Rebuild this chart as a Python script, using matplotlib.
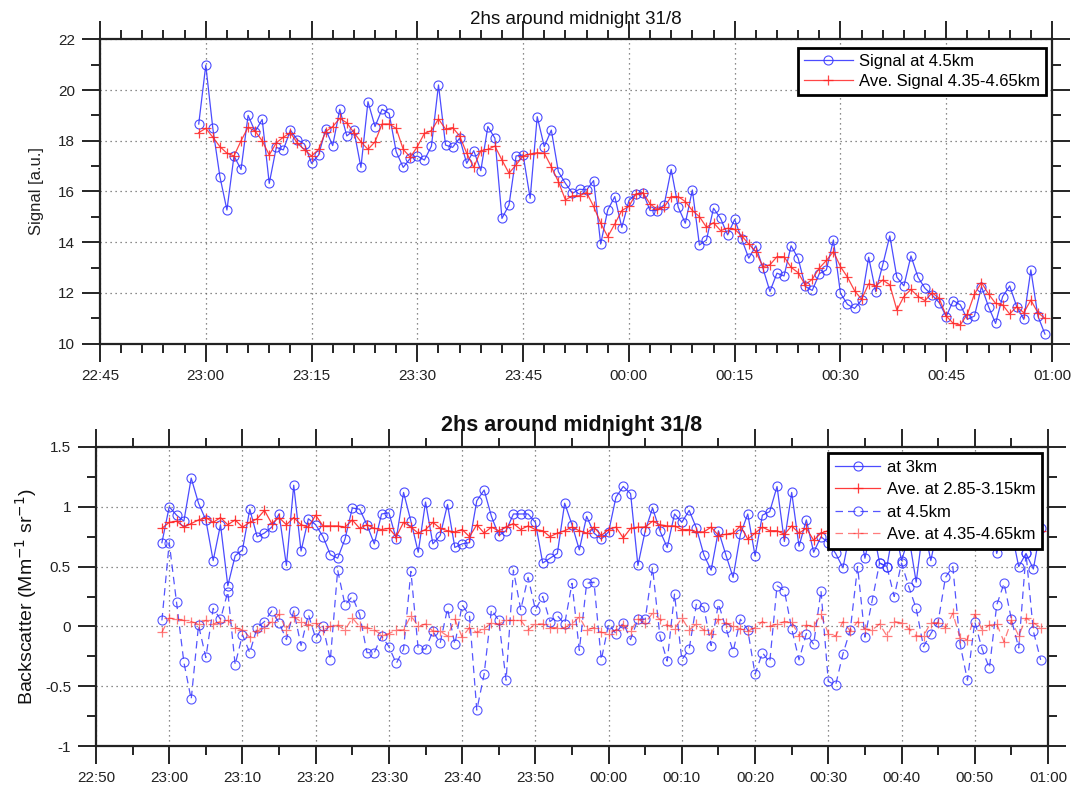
import matplotlib
matplotlib.use('Agg')
import matplotlib.pyplot as plt
import matplotlib.dates as mdates
from matplotlib.ticker import MultipleLocator
from datetime import datetime, timedelta

plt.rcParams['font.family'] = ['Liberation Sans', 'DejaVu Sans']

# ---------------- data ----------------
title_text = "2hs around midnight 31/8"

top_start = "22:59"
top_signal = [18.66, 20.98, 18.49, 16.59, 15.27, 17.40, 16.87, 19.00, 18.36, 18.84,
              16.32, 17.74, 17.64, 18.42, 18.03, 17.87, 17.11, 17.44, 18.45, 17.81,
              19.24, 18.19, 18.42, 16.95, 19.54, 18.56, 19.24, 19.08, 17.57, 16.95,
              17.31, 17.40, 17.24, 17.79, 20.20, 17.83, 17.74, 18.10, 17.11, 17.61,
              16.82, 18.56, 18.10, 14.94, 15.47, 17.40, 17.44, 15.73, 18.95, 17.77,
              18.42, 16.78, 16.32, 15.93, 16.09, 16.06, 16.43, 13.93, 15.27, 15.80,
              14.58, 15.64, 15.90, 15.95, 15.25, 15.25, 15.47, 16.87, 15.38, 14.75,
              16.06, 13.89, 14.09, 15.34, 14.94, 14.29, 14.90, 14.12, 13.37, 13.86,
              12.98, 12.06, 12.78, 12.67, 13.86, 13.37, 12.26, 12.10, 12.76, 12.91,
              14.09, 11.99, 11.55, 11.39, 11.72, 13.41, 12.05, 13.11, 14.25, 12.62,
              12.28, 13.46, 12.62, 12.18, 11.92, 11.62, 11.07, 11.70, 11.53, 10.96,
              11.09, 12.25, 11.46, 10.80, 11.86, 12.28, 11.46, 10.96, 12.91, 11.09,
              10.38]
top_avg = [18.32, 18.49, 18.14, 17.77, 17.51, 17.40, 18.00, 18.53, 18.38, 18.00,
           17.44, 17.92, 18.14, 18.32, 17.90, 17.64, 17.40, 17.66, 18.36, 18.56,
           18.88, 18.71, 18.32, 17.96, 17.66, 17.96, 18.66, 18.66, 18.49, 17.66,
           17.35, 17.77, 18.29, 18.40, 18.86, 18.46, 18.52, 18.19, 17.51, 16.95,
           17.61, 17.66, 17.79, 17.24, 16.72, 17.05, 17.40, 17.48, 17.53, 17.51,
           16.98, 16.39, 15.67, 15.83, 15.83, 15.96, 15.41, 14.75, 14.22, 14.72,
           15.25, 15.41, 15.90, 15.95, 15.51, 15.30, 15.38, 15.80, 15.80, 15.60,
           15.25, 15.01, 14.59, 14.77, 14.46, 14.55, 14.51, 14.25, 13.93, 13.63,
           13.04, 13.11, 13.43, 13.43, 13.01, 12.80, 12.32, 12.54, 12.98, 13.28,
           13.63, 13.04, 12.62, 12.09, 11.75, 12.36, 12.28, 12.51, 12.32, 11.33,
           11.86, 12.14, 11.86, 11.70, 12.01, 11.79, 11.09, 10.80, 10.74, 11.17,
           11.96, 12.41, 11.96, 11.59, 11.53, 11.17, 11.46, 11.22, 11.72, 11.22,
           11.00]

bot_start = "22:59"
bot_3km = [0.70, 1.00, 0.93,
           0.88, 1.24, 1.03, 0.89, 0.55, 0.85, 0.34, 0.59, 0.64, 0.98,
           0.75, 0.78, 0.83, 0.94, 0.51, 1.18, 0.63, 0.90, 0.85, 0.75,
           0.60, 0.57, 0.73, 0.99, 0.98, 0.85, 0.69, 0.94, 0.95, 0.73,
           1.12, 0.88, 0.62, 1.04, 0.69, 0.76, 1.02, 0.66, 0.69, 0.70,
           1.05, 1.14, 0.92, 0.76, 0.80, 0.94, 0.94, 0.94, 0.87, 0.53,
           0.57, 0.61, 1.03, 0.85, 0.64, 0.92, 0.78, 0.73, 0.79, 1.08,
           1.17, 1.11, 0.51, 0.80, 0.99, 0.80, 0.66, 0.94, 0.87, 0.97,
           0.82, 0.60, 0.47, 0.80, 0.60, 0.41, 0.77, 0.94, 0.59, 0.93,
           0.96, 1.17, 0.71, 1.12, 0.67, 0.89, 0.62, 0.75, 0.70, 0.61,
           0.49, 0.80, 0.90, 0.57, 0.85, 0.53, 0.50, 0.85, 0.55, 0.75,
           0.37, 0.85, 0.55, 0.85, 0.90, 0.80, 0.85, 0.90, 0.80, 0.85,
           0.95, 0.61, 0.85, 0.80, 0.50, 0.61, 0.48, 0.82]
bot_avg_3km = [0.82, 0.87, 0.88,
               0.83, 0.86, 0.89, 0.91, 0.87, 0.91, 0.85, 0.89, 0.83, 0.87,
               0.90, 0.97, 0.86, 0.91, 0.85, 0.91, 0.85, 0.83, 0.93, 0.84,
               0.84, 0.84, 0.83, 0.89, 0.82, 0.85, 0.82, 0.81, 0.82, 0.75,
               0.87, 0.83, 0.78, 0.81, 0.87, 0.82, 0.80, 0.79, 0.81, 0.75,
               0.85, 0.78, 0.83, 0.80, 0.83, 0.86, 0.81, 0.84, 0.81, 0.80,
               0.75, 0.78, 0.80, 0.83, 0.80, 0.78, 0.83, 0.76, 0.81, 0.83,
               0.74, 0.82, 0.83, 0.83, 0.88, 0.85, 0.84, 0.84, 0.81, 0.81,
               0.79, 0.79, 0.83, 0.76, 0.77, 0.78, 0.84, 0.73, 0.78, 0.83,
               0.80, 0.80, 0.77, 0.84, 0.78, 0.82, 0.72, 0.78, 0.80, 0.81,
               0.79, 0.82, 0.80, 0.78, 0.83, 0.80, 0.79, 0.81, 0.82, 0.80,
               0.78, 0.81, 0.83, 0.79, 0.80, 0.82, 0.78, 0.80, 0.81, 0.83,
               0.79, 0.80, 0.82, 0.78, 0.81, 0.80, 0.79, 0.80]
bot_45km = [0.05, 0.70, 0.20,
            -0.30, -0.61, 0.01, -0.26, 0.15, 0.06, 0.29, -0.32, -0.07, -0.22,
            -0.01, 0.04, 0.13, 0.03, -0.11, 0.13, -0.16, 0.10, -0.10, 0.00,
            -0.28, 0.47, 0.18, 0.25, 0.10, -0.22, -0.22, -0.08, -0.17, -0.31,
            -0.19, 0.46, -0.19, -0.19, -0.04, -0.14, 0.15, -0.15, 0.18, 0.09,
            -0.70, -0.40, 0.14, 0.05, -0.45, 0.47, 0.14, 0.41, 0.14, 0.25,
            0.04, 0.09, 0.02, 0.36, -0.20, 0.36, 0.37, -0.28, 0.02, -0.06,
            0.03, -0.11, 0.06, 0.06, 0.49, -0.08, -0.29, 0.27, -0.28, -0.19,
            0.19, 0.16, -0.16, 0.19, -0.01, -0.21, 0.06, -0.03, -0.40, -0.22,
            -0.30, 0.34, 0.30, -0.02, -0.28, -0.06, -0.15, 0.30, -0.46, -0.49,
            -0.23, -0.03, 0.50, -0.09, 0.22, 0.53, 0.50, 0.25, 0.53, 0.33,
            0.15, -0.17, -0.06, 0.04, 0.41, 0.50, -0.15, -0.45, 0.04, -0.19,
            -0.35, 0.18, 0.36, 0.06, -0.18, 0.61, -0.04, -0.28]
bot_avg_45km = [-0.05, 0.07, 0.06,
                0.05, 0.04, 0.02, 0.05, 0.02, 0.04, 0.05, -0.01, -0.03, -0.09,
                -0.04, -0.01, 0.04, 0.10, -0.03, 0.08, 0.04, 0.01, 0.03, -0.03,
                0.00, 0.01, -0.03, 0.07, 0.00, -0.01, -0.03, -0.07, -0.06, -0.03,
                -0.03, 0.09, 0.00, 0.02, -0.04, -0.04, -0.08, 0.06, -0.09, -0.01,
                -0.05, -0.02, 0.03, 0.02, 0.05, 0.05, 0.05, -0.03, 0.02, 0.02,
                -0.01, -0.01, -0.01, 0.02, 0.08, -0.03, -0.01, -0.05, -0.06, -0.03,
                0.01, -0.04, 0.06, 0.03, 0.11, 0.06, 0.01, -0.02, 0.07, -0.03,
                0.02, -0.03, -0.06, 0.06, 0.03, 0.00, -0.02, -0.04, -0.01, 0.04,
                0.00, 0.02, 0.04, 0.04, -0.08, 0.01, 0.00, 0.10, -0.06, -0.08,
                0.04, -0.04, 0.04, -0.02, -0.03, 0.02, -0.08, 0.04, 0.03, -0.02,
                -0.08, -0.08, 0.03, 0.03, -0.01, 0.11, -0.10, -0.11, 0.10, -0.03,
                0.01, 0.02, -0.13, 0.05, -0.08, 0.07, 0.03, -0.01]

top_xtick_labels = ["22:45", "23:00", "23:15", "23:30", "23:45", "00:00",
                    "00:15", "00:30", "00:45", "01:00"]
bot_xtick_labels = ["22:50", "23:00", "23:10", "23:20", "23:30", "23:40", "23:50",
                    "00:00", "00:10", "00:20", "00:30", "00:40", "00:50", "01:00"]
top_yticks = [10, 12, 14, 16, 18, 20, 22]
bot_yticks = [-1, -0.5, 0, 0.5, 1, 1.5]
bot_ytick_labels = ["-1", "-0.5", "0", "0.5", "1", "1.5"]


def to_dt(hhmm):
    h, m = map(int, hhmm.split(":"))
    day = 31 if h >= 12 else 32
    return datetime(2000, 8, 1) + timedelta(days=day - 1, hours=h, minutes=m)


top_times = [to_dt(top_start) + timedelta(minutes=i) for i in range(len(top_signal))]
bot_times = [to_dt(bot_start) + timedelta(minutes=i) for i in range(len(bot_3km))]

BLUE = (0.22, 0.22, 1.0)
RED = (1.0, 0.15, 0.15)

fig = plt.figure(figsize=(10.74, 7.88), dpi=100)
ax1 = fig.add_axes([100 / 1074, 1 - 343.7 / 788, 952 / 1074, 304.4 / 788])
ax2 = fig.add_axes([96 / 1074, 1 - 746 / 788, 952 / 1074, 299 / 788])

# ---------------- top panel ----------------
ax1.plot(top_times, top_signal, '-o', color=BLUE, lw=0.9, ms=6.5, mfc='none',
         mec=BLUE, mew=0.8, alpha=0.9, label='Signal at 4.5km')
ax1.plot(top_times, top_avg, '-+', color=RED, lw=0.9, ms=7.5, mew=0.9, alpha=0.85,
         label='Ave. Signal 4.35-4.65km')
ax1.set_xlim(to_dt(top_xtick_labels[0]), to_dt(top_xtick_labels[-1]))
ax1.set_ylim(10, 22)
ax1.set_xticks([to_dt(s) for s in top_xtick_labels], top_xtick_labels)
ax1.xaxis.set_minor_locator(mdates.MinuteLocator(byminute=range(0, 60, 3)))
ax1.set_yticks(top_yticks, [str(v) for v in top_yticks])
ax1.yaxis.set_minor_locator(MultipleLocator(1))
ax1.set_ylabel('Signal [a.u.]', fontsize=12, color='#222222', labelpad=10)
leg1 = ax1.legend(loc='upper right', bbox_to_anchor=(0.9937, 0.9714), borderaxespad=0,
                  fontsize=12, fancybox=False, edgecolor='black', framealpha=1,
                  handlelength=2.9, borderpad=0.35, labelspacing=0.3, handletextpad=0.4)
leg1.get_frame().set_linewidth(2)
fig.text(0.5 * (100 + 1052) / 1074, 1 - 19 / 788, title_text, ha='center', va='center',
         fontsize=13.5, color='#111111')

# ---------------- bottom panel ----------------
ax2.plot(bot_times, bot_3km, '-o', color=BLUE, lw=0.9, ms=6.5, mfc='none',
         mec=BLUE, mew=0.8, alpha=0.9, label='at 3km')
ax2.plot(bot_times, bot_avg_3km, '-+', color=RED, lw=0.9, ms=7.5, mew=0.9, alpha=0.9,
         label='Ave. at 2.85-3.15km')
ax2.plot(bot_times, bot_45km, '--o', color=BLUE, lw=0.9, ms=6.5, mfc='none',
         mec=BLUE, mew=0.8, alpha=0.85, dashes=(6, 4), label='at 4.5km')
ax2.plot(bot_times, bot_avg_45km, '--+', color=RED, lw=0.9, ms=7.5, mew=0.9, alpha=0.6,
         dashes=(6, 4), label='Ave. at 4.35-4.65km')
ax2.set_xlim(to_dt(bot_xtick_labels[0]), to_dt(bot_xtick_labels[-1]))
ax2.set_ylim(-1, 1.5)
ax2.set_xticks([to_dt(s) for s in bot_xtick_labels], bot_xtick_labels)
ax2.xaxis.set_minor_locator(mdates.MinuteLocator(byminute=range(0, 60, 5)))
ax2.set_yticks(bot_yticks, bot_ytick_labels)
ax2.yaxis.set_minor_locator(MultipleLocator(0.25))
ax2.set_ylabel('Backscatter (Mm$^{-1}$ sr$^{-1}$)', fontsize=14, color='#111111',
               labelpad=4)
leg2 = ax2.legend(loc='upper right', bbox_to_anchor=(0.9937, 0.98), borderaxespad=0,
                  fontsize=12, fancybox=False, edgecolor='black', framealpha=1,
                  handlelength=2.7, borderpad=0.4, labelspacing=0.45, handletextpad=0.4)
leg2.get_frame().set_linewidth(2)
fig.text(0.5 * (96 + 1048) / 1074, 1 - 425 / 788, title_text, ha='center', va='center',
         fontsize=15.5, fontweight='bold', color='#111111')

for ax in (ax1, ax2):
    ax.grid(True, which='major', linestyle=(0, (1, 3)), color='#666666', linewidth=0.9)
    ax.tick_params(which='major', direction='out', length=13, width=1.2, top=True,
                   right=True, labelsize=11, labelcolor='#222222', pad=5)
    ax.tick_params(which='minor', direction='out', length=6.5, width=1.2, top=True,
                   right=True)
    for sp in ax.spines.values():
        sp.set_linewidth(1.6)
        sp.set_color('#222222')

fig.savefig('out.png', dpi=100)
